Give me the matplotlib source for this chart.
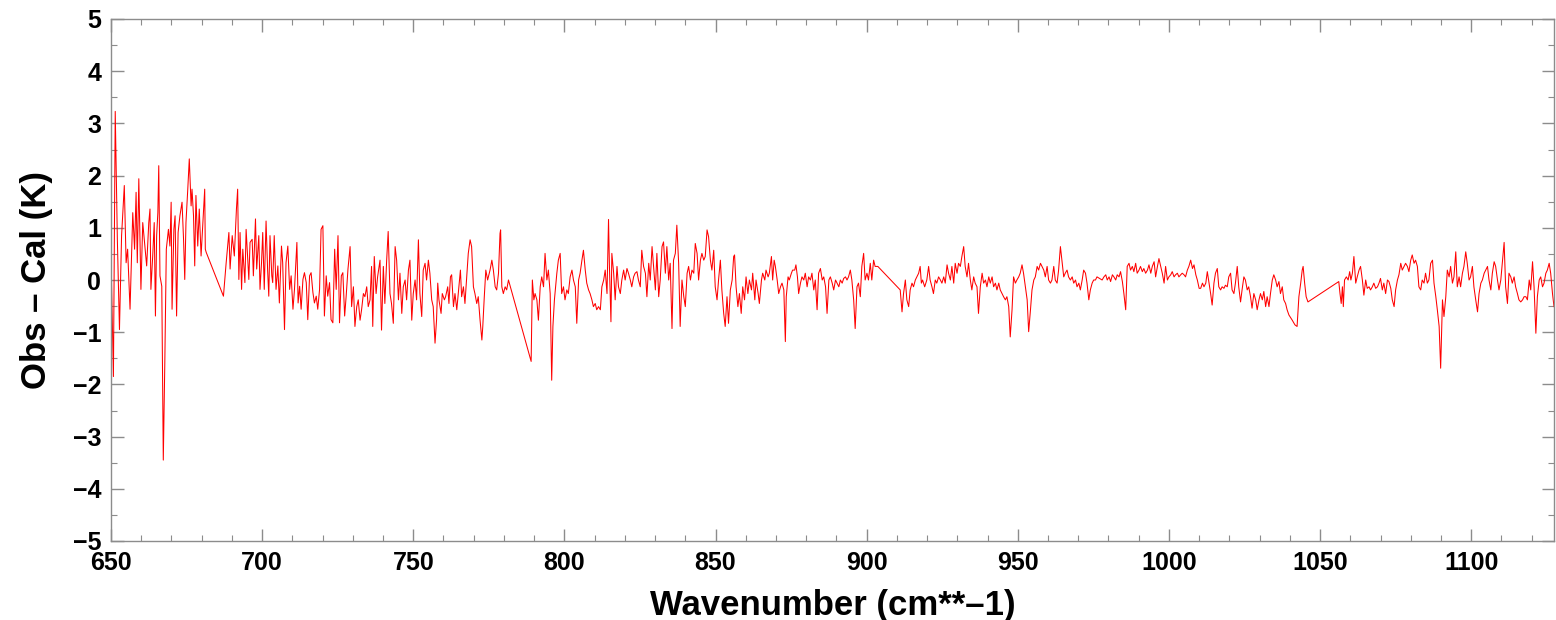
import numpy as np
import matplotlib
matplotlib.use('Agg')
import matplotlib.pyplot as plt
from matplotlib.ticker import MultipleLocator

# Obs - Cal residual spectrum
wn_a = [650.0, 650.8, 651.4, 652.1, 652.8, 653.5, 654.4, 655.0, 655.5, 656.3,
        657.2, 657.8, 658.3, 658.7, 659.2, 659.9, 660.5, 661.3, 661.8, 662.5,
        662.9, 663.2, 663.8, 664.3, 664.7, 665.1, 665.5, 665.8, 666.2, 666.8,
        667.3, 667.8, 668.3, 669.0, 669.5, 669.9, 670.2, 670.8, 671.2, 671.7,
        672.2, 672.8, 673.5, 674.0, 674.4, 674.8, 675.4, 675.9, 676.5, 676.8,
        677.3, 677.7, 678.1, 678.7, 679.2, 679.8, 680.4, 681.0, 681.2, 681.5,
        687.2, 688.1, 689.0, 689.4, 690.1, 690.8, 691.5, 691.9, 692.3, 692.7,
        693.2, 693.6, 694.3, 694.7, 695.3, 695.6, 696.0, 696.7, 697.1, 697.8,
        698.2, 698.9, 699.3, 699.8, 700.2, 700.7, 701.3, 701.8, 702.2, 702.6,
        703.2, 703.5, 704.0, 704.6, 705.2, 705.7, 706.4, 706.8, 707.4, 707.9,
        708.5, 709.1, 709.6, 710.2, 710.7, 711.5, 711.9, 712.4, 712.9, 713.5,
        714.0, 714.6, 715.1, 715.7, 716.2, 716.8, 717.3, 717.9, 718.4, 719.0,
        719.5, 720.1, 720.6, 721.2, 721.7, 722.3, 722.8, 723.4, 724.0, 724.5,
        725.1, 725.6, 726.2, 726.7, 727.3, 727.8, 728.4]
dk_a = [0.46, -1.85, 3.23, 0.78, -0.95, 0.85, 1.81, 0.33, 0.59, -0.56,
        1.29, 0.59, 1.68, 0.33, 1.94, -0.18, 1.10, 0.59, 0.27, 1.10,
        1.36, -0.18, 0.46, 1.10, -0.69, 0.85, 1.29, 2.19, 0.08, -0.12,
        -3.45, -1.59, 0.59, 0.97, 0.65, 1.49, -0.56, 0.97, 1.23, -0.69,
        0.91, 1.23, 1.49, 0.78, 0.01, 1.10, 1.74, 2.32, 1.42, 1.74,
        1.23, 0.27, 1.62, 0.65, 1.36, 0.46, 1.10, 1.74, 0.59, 0.53,
        -0.31, 0.33, 0.91, 0.21, 0.85, 0.46, 1.36, 1.74, 0.01, 0.91,
        -0.18, 0.59, -0.05, 0.97, 0.33, 0.01, 0.72, 0.78, 0.08, 1.17,
        0.21, 0.85, -0.18, 0.33, 0.91, -0.18, 1.13, 0.21, -0.31, 0.85,
        0.08, -0.05, 0.85, -0.18, 0.27, -0.44, 0.65, 0.33, -0.95, 0.33,
        0.65, -0.18, 0.08, -0.56, -0.18, 0.72, -0.44, -0.12, -0.56, 0.01,
        0.14, -0.05, -0.76, 0.08, 0.14, -0.24, -0.44, -0.31, -0.56, -0.18,
        0.97, 1.04, -0.69, 0.08, -0.31, -0.05, -0.76, -0.82, 0.59, -0.18,
        0.85, -0.82, 0.08, 0.14, -0.69, -0.31, 0.21]

wn_b = [729.1, 729.6, 730.2, 730.7, 731.3, 731.8, 732.4, 732.9, 733.5, 734.0,
        734.6, 735.1, 735.7, 736.2, 736.6, 737.1, 737.7, 738.2, 739.0, 739.5,
        740.1, 740.6, 741.2, 741.7, 742.3, 742.8, 743.4, 744.0, 744.5, 745.1,
        745.6, 746.2, 746.7, 747.3, 747.8, 748.4, 748.9, 749.5, 750.0, 750.6,
        751.1, 751.7, 752.2, 752.8, 753.3, 753.9, 754.4, 755.0, 755.5, 756.1,
        756.6, 757.2, 757.7, 758.1, 758.5, 759.2, 759.6, 760.3, 760.7, 761.4,
        761.8, 762.3, 762.7, 763.3, 763.8, 764.4, 764.9, 765.6, 766.0, 766.6,
        767.1, 767.7, 768.2, 768.8, 769.3, 769.9, 770.4, 771.0, 771.5, 772.1,
        772.7, 773.0, 773.5, 774.0, 774.6, 775.4, 776.0, 776.5, 777.1, 777.6,
        778.2, 778.7, 778.9, 779.3, 779.8, 780.4, 780.9, 781.5, 789.0, 789.4,
        789.9, 790.3, 790.9, 791.4, 792.0, 792.5, 793.1, 793.6, 794.2, 794.7,
        795.3, 795.8, 796.2, 796.7, 797.5, 798.0, 798.6, 799.1, 799.7, 800.2,
        800.8, 801.3, 801.9, 802.5, 803.0, 803.6, 804.1, 804.7, 805.2, 805.8,
        806.3, 806.9, 807.4, 808.0, 808.5, 809.1, 809.6, 810.2, 810.7]
dk_b = [0.64, -0.51, -0.13, -0.89, -0.51, -0.38, -0.77, -0.57, -0.26, -0.32,
        -0.13, -0.51, -0.38, 0.26, -0.89, 0.45, -0.26, 0.06, 0.38, -0.96,
        0.26, -0.45, 0.38, 0.93, -0.26, -0.45, -0.83, 0.64, 0.38, -0.38,
        0.13, -0.64, -0.13, 0.0, -0.38, 0.19, 0.38, -0.77, -0.26, 0.0,
        -0.38, 0.77, -0.26, -0.70, 0.19, 0.32, 0.0, 0.38, 0.13, -0.38,
        -0.51, -1.21, -0.77, -0.06, -0.38, -0.64, -0.26, -0.38, -0.32, -0.13,
        -0.45, 0.06, 0.10, -0.51, -0.26, -0.57, -0.26, 0.19, -0.32, -0.13,
        -0.45, 0.06, 0.51, 0.77, 0.64, -0.13, -0.26, -0.45, -0.32, -0.77,
        -1.15, -0.89, -0.32, 0.19, 0.0, 0.19, 0.38, 0.19, -0.13, -0.19,
        0.13, 0.89, 0.96, -0.13, -0.26, -0.13, -0.19, 0.0, -1.56, 0.0,
        -0.38, -0.26, -0.38, -0.77, -0.13, 0.06, -0.13, 0.51, 0.0, 0.19,
        -0.26, -1.92, -0.89, -0.38, 0.13, 0.38, 0.51, -0.26, -0.13, -0.38,
        -0.19, -0.26, 0.06, 0.19, 0.0, -0.13, -0.83, 0.0, 0.13, 0.38,
        0.57, 0.19, -0.06, -0.19, -0.26, -0.38, -0.51, -0.45, -0.57]

wn_c = [811.3, 811.9, 812.4, 813.0, 813.5, 814.1, 814.6, 814.9, 815.4, 815.7,
        816.3, 816.8, 817.4, 817.9, 818.5, 819.0, 819.6, 820.1, 820.7, 821.2,
        821.8, 822.3, 822.9, 823.4, 824.0, 824.5, 825.1, 825.6, 826.2, 826.8,
        827.3, 827.9, 828.4, 829.0, 829.5, 830.1, 830.6, 831.2, 831.7, 832.3,
        832.8, 833.4, 833.9, 834.5, 835.0, 835.6, 836.1, 836.7, 837.2, 837.8,
        838.3, 838.9, 839.5, 840.0, 840.6, 841.1, 841.7, 842.2, 842.8, 843.3,
        843.9, 844.4, 845.0, 845.5, 846.1, 846.6, 847.2, 847.7, 848.3, 848.8,
        849.4, 849.9, 850.5, 851.0, 851.6, 852.1, 852.7, 853.2, 853.8, 854.3,
        854.9, 855.5, 856.0, 856.3, 856.8, 857.4, 857.9, 858.5, 859.0, 859.6,
        860.1, 860.7, 861.2, 861.9, 862.3, 863.0, 863.4, 864.1, 864.5, 865.2,
        865.6, 866.3, 866.7, 867.4, 867.8, 868.5, 868.9, 869.4, 869.8, 870.4,
        870.9, 871.5, 872.0, 872.6, 873.1, 873.4, 874.0, 874.4, 875.1, 875.5,
        876.2, 876.6, 877.1, 877.5, 878.1, 878.6, 879.2, 879.7, 880.3, 880.8,
        881.4, 881.9, 882.5, 883.0, 883.6, 884.1, 884.7, 885.3, 885.8, 886.4,
        886.9, 887.5, 888.0, 888.6, 889.1, 889.7, 890.2, 890.8, 891.3, 891.9,
        892.4, 893.0, 893.5]
dk_c = [-0.51, -0.57, -0.13, 0.0, 0.19, -0.26, 1.16, 0.26, -0.80, 0.51,
        0.13, -0.38, 0.26, -0.13, -0.26, 0.0, 0.19, 0.0, 0.22, 0.13,
        0.0, -0.13, 0.06, 0.13, 0.16, 0.0, -0.13, 0.57, 0.26, 0.13,
        -0.32, 0.32, 0.0, 0.64, 0.26, -0.19, 0.51, -0.32, 0.0, 0.64,
        0.73, 0.13, 0.64, 0.0, 0.32, -0.93, 0.38, 0.51, 1.05, 0.32,
        -0.89, 0.0, -0.32, -0.51, 0.13, 0.26, 0.0, 0.19, 0.13, 0.70,
        0.51, 0.0, 0.38, 0.51, 0.38, 0.45, 0.96, 0.83, 0.38, 0.19,
        0.57, -0.13, -0.38, 0.0, 0.38, -0.19, -0.64, -0.89, -0.32, -0.83,
        -0.19, 0.0, 0.45, 0.48, -0.13, -0.51, -0.26, -0.64, -0.13, -0.38,
        0.06, -0.26, 0.0, -0.19, 0.13, -0.38, 0.0, -0.26, -0.45, 0.0,
        0.13, 0.0, 0.19, 0.06, 0.13, 0.45, 0.0, 0.38, 0.26, 0.0,
        -0.26, -0.13, -0.06, -0.19, -1.18, -0.32, 0.06, 0.0, 0.13, 0.19,
        0.19, 0.29, 0.06, -0.26, -0.06, 0.06, 0.0, 0.13, -0.13, 0.06,
        0.0, 0.13, -0.19, 0.0, -0.57, 0.13, 0.22, 0.0, 0.06, -0.13,
        -0.64, 0.0, 0.06, -0.06, -0.19, 0.0, -0.06, -0.13, 0.0, -0.06,
        0.03, 0.06, 0.0]

wn_d = [894.0, 894.6, 895.1, 895.7, 896.2, 896.8, 897.3, 897.9, 898.4, 899.0,
        899.5, 900.1, 900.6, 901.2, 901.7, 902.3, 902.8, 903.4, 903.7, 911.1,
        911.7, 912.2, 912.8, 913.3, 913.9, 914.4, 915.0, 915.5, 916.1, 916.6,
        917.2, 917.7, 918.1, 918.5, 919.2, 919.9, 920.5, 921.0, 921.6, 922.1,
        922.7, 923.2, 923.8, 924.4, 924.9, 925.5, 926.0, 926.6, 927.1, 927.7,
        928.2, 928.8, 929.3, 929.9, 930.4, 931.0, 931.5, 932.1, 932.6, 933.2,
        933.7, 934.3, 934.8, 935.4, 935.9, 936.5, 937.0, 937.6, 938.2, 938.7,
        939.3, 939.8, 940.4, 940.9, 941.5, 942.0, 942.6, 943.1, 943.7, 944.2,
        944.8, 945.3, 945.9, 946.4, 947.0, 947.5, 948.1, 948.6, 949.2, 949.7,
        950.3, 950.8, 951.4, 951.9, 952.5, 953.1, 953.6, 954.2, 954.7, 955.3,
        955.8, 956.4, 956.9, 957.5, 958.0, 958.6, 959.1, 959.7, 960.2, 960.8,
        961.3, 961.9, 962.4, 963.0, 963.5, 964.1, 964.6, 965.2, 965.7, 966.3,
        966.8, 967.4, 968.0, 968.5, 969.1, 969.6, 970.2, 970.7, 971.3, 971.8,
        972.4, 972.9, 973.5, 974.0, 974.6, 975.1, 975.7, 976.2]
dk_d = [0.06, 0.19, 0.0, -0.38, -0.93, -0.13, -0.06, -0.32, 0.26, 0.51,
        0.0, 0.13, 0.0, 0.32, 0.0, 0.38, 0.26, 0.26, 0.26, -0.19,
        -0.61, -0.26, 0.0, -0.38, -0.51, -0.19, -0.06, -0.13, 0.0, 0.06,
        0.13, 0.26, -0.06, 0.0, -0.13, 0.0, 0.26, 0.0, -0.13, -0.26,
        0.0, -0.06, 0.06, 0.0, -0.06, 0.06, -0.06, 0.29, 0.13, 0.0,
        0.26, -0.06, 0.32, 0.13, 0.32, 0.26, 0.45, 0.64, 0.26, 0.06,
        0.32, 0.0, -0.19, 0.06, -0.06, -0.13, -0.64, -0.13, 0.13, -0.06,
        0.0, -0.13, 0.06, -0.06, 0.06, -0.13, -0.06, -0.19, -0.06, -0.19,
        -0.26, -0.32, -0.38, -0.32, -0.51, -1.09, -0.57, 0.06, -0.06, 0.0,
        0.06, 0.13, 0.29, 0.13, -0.13, -0.38, -0.99, -0.57, -0.19, 0.0,
        0.06, 0.26, 0.19, 0.32, 0.26, 0.19, 0.06, 0.26, 0.0, -0.06,
        0.0, 0.26, 0.0, -0.06, 0.19, 0.64, 0.38, 0.06, 0.13, 0.19,
        0.06, 0.0, 0.06, -0.06, 0.0, -0.13, -0.06, -0.19, 0.0, 0.19,
        0.13, -0.06, -0.38, -0.19, -0.06, 0.0, 0.0, 0.06]

wn_e = [977.9, 978.5, 979.1, 979.6, 980.2, 980.7, 981.3, 981.8, 982.4, 982.9,
        983.5, 984.0, 984.6, 985.1, 985.7, 986.2, 986.8, 987.3, 987.9, 988.4,
        989.0, 989.5, 990.1, 990.6, 991.2, 991.7, 992.3, 992.9, 993.4, 994.0,
        994.5, 995.1, 995.6, 996.2, 996.7, 997.3, 997.8, 998.4, 998.9, 999.5,
        1000.0, 1000.6, 1001.1, 1001.7, 1002.2, 1002.8, 1003.3, 1003.9, 1004.4, 1005.0,
        1005.5, 1006.1, 1006.6, 1007.2, 1007.8, 1008.3, 1008.9, 1009.4, 1010.0, 1010.5,
        1011.1, 1011.6, 1012.2, 1012.7]
dk_e = [0.0, 0.06, 0.10, 0.0, 0.06, -0.03, 0.10, 0.06, 0.0, 0.10,
        0.06, 0.16, -0.03, -0.26, -0.57, 0.26, 0.32, 0.19, 0.26, 0.16,
        0.32, 0.13, 0.19, 0.26, 0.16, 0.22, 0.13, 0.19, 0.29, 0.13,
        0.26, 0.35, 0.06, 0.26, 0.41, 0.26, 0.13, -0.06, 0.26, 0.0,
        0.06, 0.10, 0.16, 0.06, 0.10, 0.13, 0.06, 0.10, 0.13, 0.10,
        0.06, 0.19, 0.26, 0.38, 0.22, 0.29, 0.10, 0.0, -0.16, -0.16,
        -0.06, -0.13, -0.06, 0.16]

wn_f = [1013.8, 1014.3, 1014.9, 1015.4, 1016.0, 1016.5, 1017.1, 1017.6, 1018.2, 1018.7,
        1019.3, 1019.8, 1020.4, 1020.9, 1021.5, 1022.0, 1022.6, 1023.1, 1023.7, 1024.2,
        1024.8, 1025.3, 1025.9, 1026.4, 1027.0, 1027.5, 1028.1, 1028.7, 1029.2, 1029.8,
        1030.3, 1030.9, 1031.4, 1032.0, 1032.5, 1033.1, 1033.6, 1034.2, 1034.7, 1035.3,
        1035.8, 1036.4, 1036.9, 1037.5, 1038.0, 1038.6, 1039.1, 1039.7, 1040.8, 1041.7,
        1042.4, 1043.0, 1043.6, 1044.1, 1044.4, 1044.9, 1045.4, 1046.0, 1056.2, 1056.6,
        1057.0, 1057.4, 1057.7, 1058.1, 1058.7, 1059.3, 1059.8, 1060.2, 1060.7, 1061.2,
        1061.8, 1062.3, 1062.9, 1063.4, 1064.0, 1064.5, 1065.1, 1065.6, 1066.2, 1066.7,
        1067.3, 1067.8, 1068.4, 1069.0, 1069.5, 1070.0, 1070.6, 1071.1, 1071.7, 1072.3,
        1072.8, 1073.4, 1073.9, 1074.5, 1075.0, 1075.6, 1076.1, 1076.7, 1077.2, 1077.8,
        1078.3, 1078.9, 1079.4, 1080.0, 1080.5, 1081.1, 1081.6, 1082.2, 1082.7, 1083.3,
        1083.8, 1084.4, 1084.9, 1085.5, 1086.0, 1086.6, 1087.2, 1087.7, 1088.3, 1088.8,
        1089.4, 1089.9, 1090.5, 1091.0, 1091.6, 1092.1, 1092.7, 1093.2, 1093.8, 1094.3,
        1094.9, 1095.4, 1096.0, 1096.5, 1097.1, 1097.6, 1098.2, 1098.7, 1099.3, 1099.8,
        1100.4, 1100.9, 1101.5, 1102.1, 1102.6, 1103.2, 1103.7, 1104.3, 1104.8, 1105.4,
        1105.9, 1106.5, 1107.0, 1107.6, 1108.1, 1108.7, 1109.2, 1109.8, 1110.3, 1110.9,
        1111.4, 1112.0, 1112.5, 1113.1, 1113.6, 1114.2, 1114.7, 1115.3, 1115.8, 1116.4,
        1117.0, 1117.5, 1118.1, 1118.6, 1119.2, 1119.7, 1120.3, 1120.8, 1121.4, 1121.9,
        1122.5, 1123.0, 1123.6, 1124.1, 1124.7, 1125.2, 1125.8, 1126.3, 1126.9, 1127.4]
dk_f = [-0.26, -0.48, -0.06, 0.13, 0.22, -0.13, -0.19, -0.13, -0.16, -0.10,
        -0.13, 0.06, 0.13, -0.19, -0.26, -0.06, 0.26, -0.13, -0.42, -0.19,
        0.06, 0.0, -0.19, -0.13, -0.32, -0.54, -0.26, -0.38, -0.57, -0.38,
        -0.26, -0.38, -0.22, -0.51, -0.32, -0.51, -0.26, 0.0, 0.10, 0.0,
        -0.13, -0.03, -0.26, -0.13, -0.38, -0.45, -0.57, -0.67, -0.77, -0.86,
        -0.89, -0.32, -0.06, 0.19, 0.26, -0.06, -0.32, -0.42, -0.03, -0.26,
        -0.45, -0.13, -0.51, 0.0, 0.06, 0.0, 0.16, 0.0, 0.13, 0.45,
        -0.06, 0.06, 0.19, 0.26, 0.0, -0.29, 0.0, -0.16, -0.13, -0.19,
        -0.13, -0.06, -0.16, -0.13, -0.06, 0.03, -0.19, -0.06, -0.26, 0.0,
        -0.03, -0.16, -0.38, -0.51, -0.19, 0.0, 0.10, 0.32, 0.19, 0.26,
        0.32, 0.26, 0.16, 0.38, 0.48, 0.32, 0.38, 0.26, -0.13, -0.19,
        0.0, -0.06, 0.13, -0.06, 0.0, 0.32, 0.38, -0.06, -0.32, -0.57,
        -0.89, -1.69, -0.38, -0.70, -0.32, 0.19, 0.06, 0.26, -0.06, 0.06,
        0.54, -0.13, 0.06, -0.13, 0.13, 0.26, 0.54, 0.32, 0.0, 0.06,
        0.26, -0.13, -0.38, -0.61, -0.26, -0.06, 0.0, 0.13, 0.19, 0.26,
        0.0, -0.19, 0.13, 0.35, 0.26, 0.0, -0.19, 0.0, 0.32, 0.72,
        -0.13, -0.45, 0.13, 0.06, -0.06, 0.06, -0.13, -0.26, -0.38, -0.42,
        -0.38, -0.32, -0.32, -0.38, 0.0, -0.19, 0.35, -0.13, -1.02, -0.32,
        0.0, 0.06, -0.13, -0.06, 0.13, 0.19, 0.32, 0.13, -0.26, -0.51]

wavenumber = np.concatenate([wn_a, wn_b, wn_c, wn_d, wn_e, wn_f])
obs_cal = np.concatenate([dk_a, dk_b, dk_c, dk_d, dk_e, dk_f])

plt.rcParams['font.family'] = ['Liberation Sans', 'DejaVu Sans']
plt.rcParams['font.weight'] = 'bold'

fig = plt.figure(figsize=(15.56, 6.2), dpi=100)
ax = fig.add_axes([111 / 1556, 79 / 620, 1443 / 1556, 522 / 620])

ax.plot(wavenumber, obs_cal, color='red', lw=0.75)

ax.set_xlim(650, 1127.4)
ax.set_ylim(-5, 5)
ax.xaxis.set_major_locator(MultipleLocator(50))
ax.xaxis.set_minor_locator(MultipleLocator(10))
ax.yaxis.set_major_locator(MultipleLocator(1))
ax.yaxis.set_minor_locator(MultipleLocator(0.5))

for s in ax.spines.values():
    s.set_color('#8c8c8c')
    s.set_linewidth(1.0)
ax.tick_params(which='both', direction='in', top=True, right=True, color='#8c8c8c')
ax.tick_params(which='major', length=9, width=1.0, labelsize=18, pad=7)
ax.tick_params(which='minor', length=4.5, width=0.8)
for lab in ax.get_xticklabels() + ax.get_yticklabels():
    lab.set_fontweight('bold')

ax.set_xlabel('Wavenumber (cm**\u20131)', fontsize=25, fontweight='bold', labelpad=10)
ax.set_ylabel('Obs \u2013 Cal (K)', fontsize=25, fontweight='bold', labelpad=14)

fig.savefig('out.png', dpi=100)
